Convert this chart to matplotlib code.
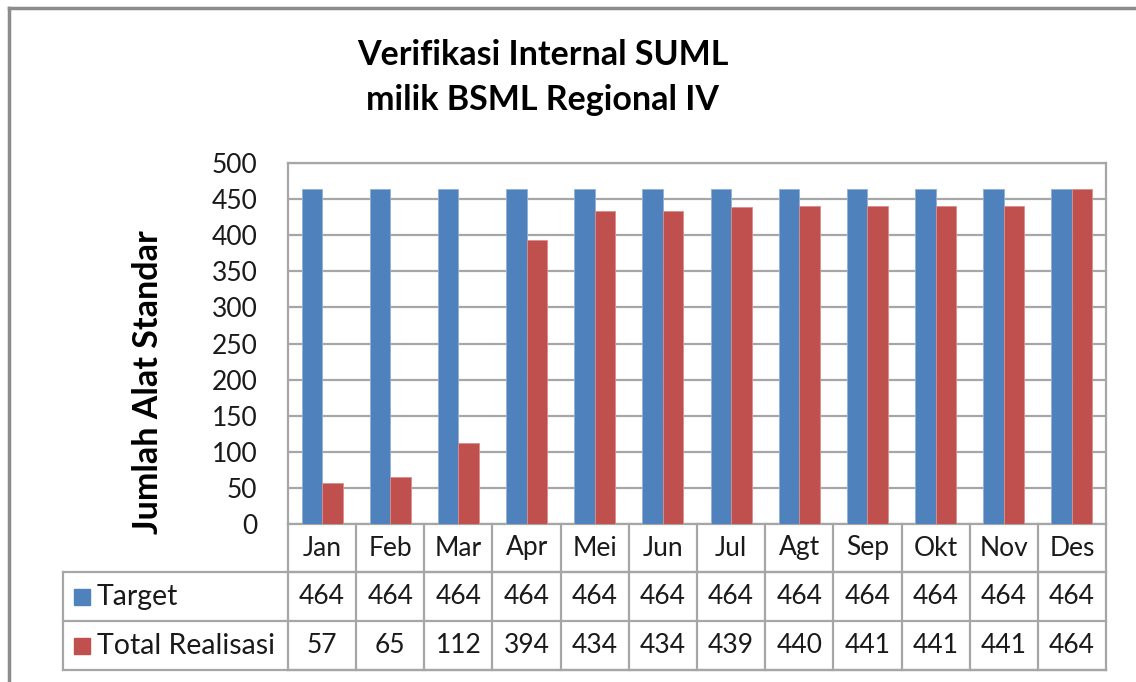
import matplotlib.pyplot as plt
import numpy as np

plt.rcParams['font.family'] = ['Lato', 'DejaVu Sans']

months = ["Jan", "Feb", "Mar", "Apr", "Mei", "Jun", "Jul", "Agt", "Sep", "Okt", "Nov", "Des"]
target = [464, 464, 464, 464, 464, 464, 464, 464, 464, 464, 464, 464]
realisasi = [57, 65, 112, 394, 434, 434, 439, 440, 441, 441, 441, 464]
series_names = ["Target", "Total Realisasi"]
series_colors = ["#4f81bd", "#c0504d"]
title_lines = ["Verifikasi Internal SUML", "milik BSML Regional IV"]

W, H = 1136, 682
fig = plt.figure(figsize=(W / 100, H / 100), dpi=100)

# outer chart frame
fig.add_artist(plt.Line2D([9 / W, 9 / W], [0, 1 - 8 / H], color="#8c8c8c", lw=2.5))
fig.add_artist(plt.Line2D([9 / W, 1], [1 - 8 / H, 1 - 8 / H], color="#8c8c8c", lw=2.5))

left, right, top, bottom = 288, 1106, 163, 524
ax = fig.add_axes([left / W, 1 - bottom / H, (right - left) / W, (bottom - top) / H])

x = np.arange(len(months))
bw = 0.3
ax.bar(x - bw / 2, target, bw, color=series_colors[0], edgecolor="#8fb0d8", lw=0.6, zorder=3)
ax.bar(x + bw / 2, realisasi, bw, color=series_colors[1], edgecolor="#d98f8d", lw=0.6, zorder=3)

ax.set_xlim(-0.5, len(months) - 0.5)
ax.set_ylim(0, 500)
ax.set_yticks(range(0, 501, 50))
ax.set_xticks([])
ax.grid(axis="y", color="#a6a6a6", lw=1.6, zorder=0)
for s in ax.spines.values():
    s.set_color("#a6a6a6")
    s.set_linewidth(1.6)
ax.tick_params(axis="y", length=0, labelsize=19, pad=22, labelcolor="#1a1a1a")

ax.set_ylabel("Jumlah Alat Standar", fontsize=24.5, fontweight="bold")
ax.yaxis.set_label_coords((164 - left) / (right - left), 0.393)

fig.text(543 / W, 1 - 55 / H, title_lines[0], ha="center", va="center", fontsize=24.5, fontweight="bold")
fig.text(543 / W, 1 - 100 / H, title_lines[1], ha="center", va="center", fontsize=24.5, fontweight="bold")

# data table below the plot
ph = bottom - top
rows_y = [0, -48 / ph, -97 / ph, -146 / ph]
leg_x = (63 - left) / (right - left)
line_kw = dict(color="#a6a6a6", lw=1.6, clip_on=False, zorder=5)
ax.plot([-0.5, len(months) - 0.5], [rows_y[1]] * 2, transform=ax.get_xaxis_transform(), **line_kw)
ax.plot([-0.5, len(months) - 0.5], [rows_y[3]] * 2, transform=ax.get_xaxis_transform(), **line_kw)
ax.plot([leg_x, 1], [rows_y[1]] * 2, transform=ax.transAxes, **line_kw)
ax.plot([leg_x, 1], [rows_y[2]] * 2, transform=ax.transAxes, **line_kw)
ax.plot([leg_x, 1], [rows_y[3]] * 2, transform=ax.transAxes, **line_kw)
ax.plot([leg_x, leg_x], [rows_y[1], rows_y[3]], transform=ax.transAxes, **line_kw)
for b in np.arange(len(months) + 1) - 0.5:
    ax.plot([b, b], [0, rows_y[3]], transform=ax.get_xaxis_transform(), **line_kw)

tr = ax.get_xaxis_transform()
for i, m in enumerate(months):
    ax.text(i, (rows_y[0] + rows_y[1]) / 2, m, transform=tr, ha="center", va="center", fontsize=19, color="#1a1a1a")
    ax.text(i, (rows_y[1] + rows_y[2]) / 2, str(target[i]), transform=tr, ha="center", va="center", fontsize=19, color="#1a1a1a")
    ax.text(i, (rows_y[2] + rows_y[3]) / 2, str(realisasi[i]), transform=tr, ha="center", va="center", fontsize=19, color="#1a1a1a")

for k, name in enumerate(series_names):
    yc = (rows_y[k + 1] + rows_y[k + 2]) / 2
    ax.plot([(82 - left) / (right - left)], [yc], marker="s", ms=11, color=series_colors[k],
            transform=ax.transAxes, clip_on=False, zorder=6)
    ax.text((97 - left) / (right - left), yc, name, transform=ax.transAxes, ha="left", va="center",
            fontsize=20.5, color="#1a1a1a")

fig.savefig("out.png", dpi=100)
